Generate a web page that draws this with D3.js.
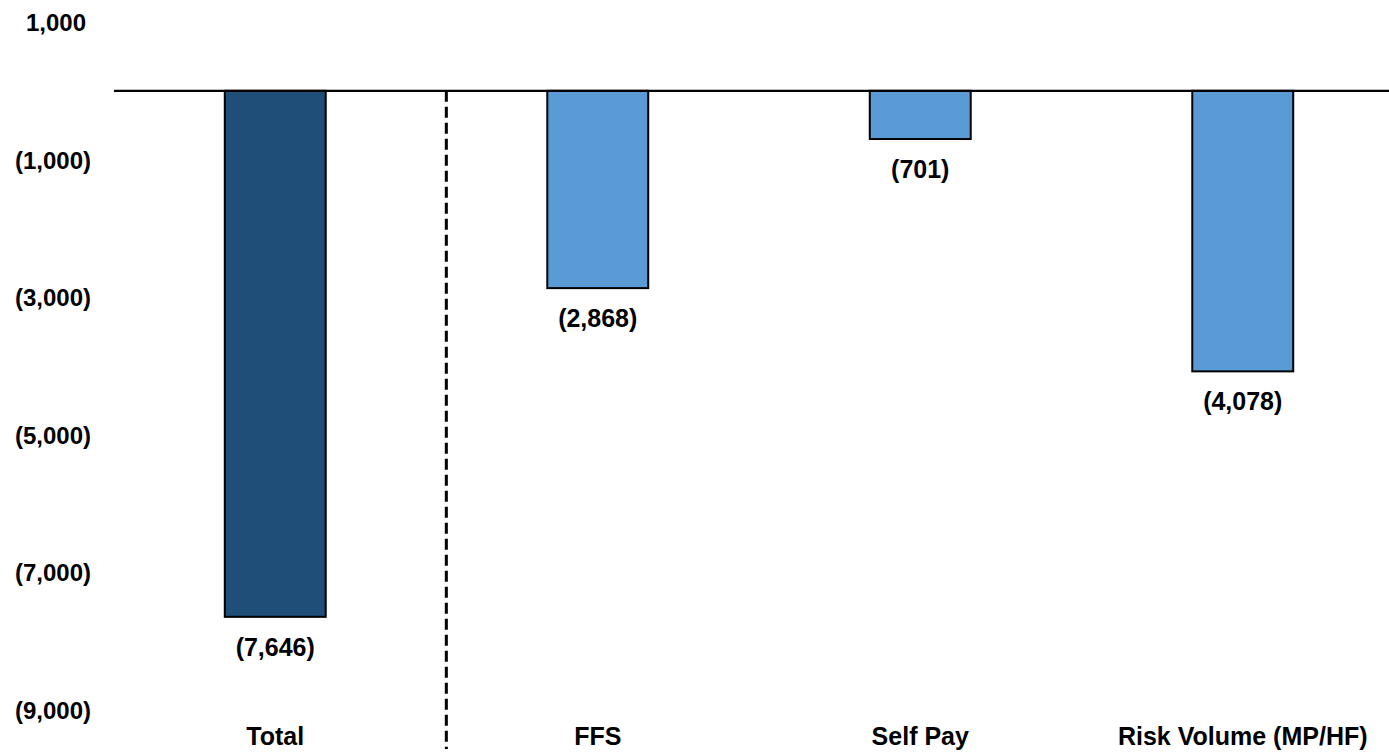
<!DOCTYPE html>
<html>
<head>
<meta charset="utf-8">
<script src="https://cdn.jsdelivr.net/npm/d3@7"></script>
<style>
  html, body { margin: 0; padding: 0; background: #ffffff; }
  svg { display: block; }
  text { font-family: "Liberation Sans", Arial, sans-serif; font-weight: bold; font-size: 25px; fill: #000; }
</style>
</head>
<body>
<svg id="chart" width="1389" height="754"></svg>
<script>
const categories = ["Total", "FFS", "Self Pay", "Risk Volume (MP/HF)"];
const values = [-7646, -2868, -701, -4078];
const barColors = ["#1F4E79", "#5B9BD5", "#5B9BD5", "#5B9BD5"];
const tickValues = [1000, -1000, -3000, -5000, -7000, -9000];
const yDomain = [-9000, 1000];

const W = 1389, H = 754;
const svg = d3.select("#chart");

const fmt = d3.format(",");
const acct = v => v < 0 ? "(" + fmt(-v) + ")" : fmt(v);

const y = d3.scaleLinear().domain(yDomain).range([710, 22]);
const x = d3.scaleBand().domain(categories).range([114, 1404])
  .paddingInner(0.687).paddingOuter(0.3435);

// Y axis labels
const yAxis = d3.axisLeft(y).tickValues(tickValues).tickSize(0).tickPadding(0).tickFormat(acct);
const gy = svg.append("g").attr("transform", "translate(91,0)").call(yAxis);
gy.select(".domain").remove();
gy.selectAll("text")
  .attr("dy", "0.35em")
  .attr("dx", d => d >= 0 ? -5 : 0)
  .style("font-family", '"Liberation Sans", Arial, sans-serif')
  .style("font-weight", "bold")
  .style("font-size", "24px")
  .attr("fill", "#000");

const data = categories.map((c, i) => ({ c, v: values[i], col: barColors[i] }));

// Bars
svg.append("g").selectAll("rect").data(data).join("rect")
  .attr("x", d => x(d.c))
  .attr("width", x.bandwidth())
  .attr("y", d => y(Math.max(0, d.v)))
  .attr("height", d => Math.abs(y(d.v) - y(0)))
  .attr("fill", d => d.col)
  .attr("stroke", "#000")
  .attr("stroke-width", 2);

// Zero line
svg.append("line")
  .attr("x1", 114).attr("x2", W)
  .attr("y1", y(0)).attr("y2", y(0))
  .attr("stroke", "#000").attr("stroke-width", 2.2);

// Divider dashed line
const xDiv = x(categories[1]) - x.bandwidth();
svg.append("line")
  .attr("x1", xDiv).attr("x2", xDiv)
  .attr("y1", y(0)).attr("y2", 749)
  .attr("stroke", "#000").attr("stroke-width", 3)
  .attr("stroke-dasharray", "11,5");

// Value labels
svg.append("g").selectAll("text").data(data).join("text")
  .attr("x", d => x(d.c) + x.bandwidth() / 2)
  .attr("y", d => y(d.v) + 30)
  .attr("dy", "0.35em")
  .attr("text-anchor", "middle")
  .text(d => acct(d.v));

// Category labels
svg.append("g").selectAll("text").data(categories).join("text")
  .attr("x", d => x(d) + x.bandwidth() / 2)
  .attr("y", 745)
  .attr("text-anchor", "middle")
  .text(d => d);
</script>
</body>
</html>
